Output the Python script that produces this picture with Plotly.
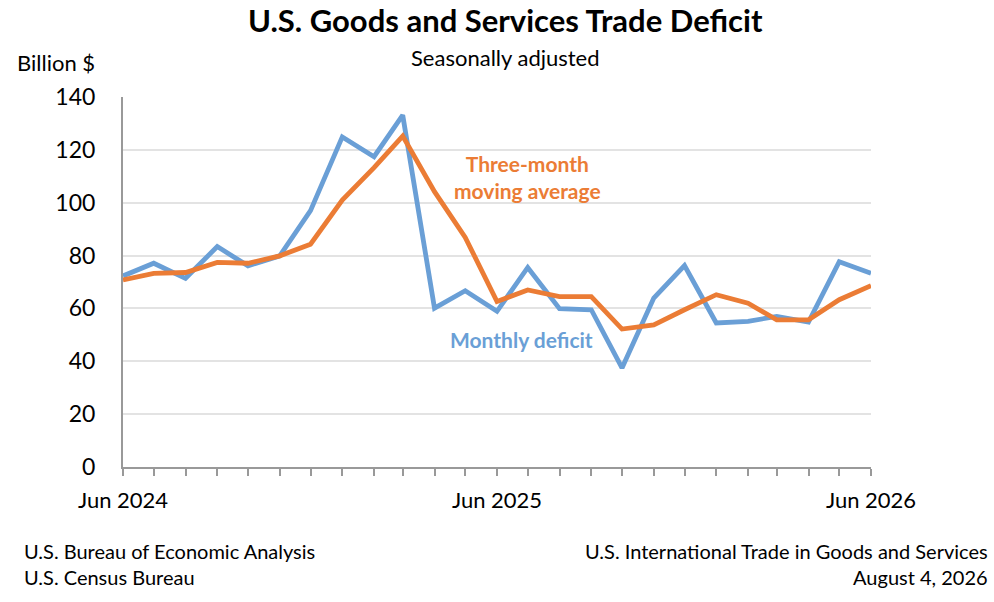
import pandas as pd
import plotly.graph_objects as go

months = pd.date_range("2024-06-01", "2026-06-01", freq="MS").strftime("%Y-%m-%d").tolist()

monthly_deficit = [72.3, 77.1, 71.4, 83.4, 76.1, 79.9, 97.0, 124.9, 117.4, 133.1, 60.1, 66.7, 58.9,
                   75.5, 59.9, 59.5, 37.5, 63.9, 76.2, 54.5, 55.1, 57.0, 54.8, 77.7, 73.3]
three_month_avg = [70.8, 73.3, 73.6, 77.4, 77.1, 79.9, 84.3, 101.0, 113.3, 125.2, 104.2, 86.9, 62.6,
                   67.0, 64.5, 64.5, 52.2, 53.8, 59.5, 65.2, 62.0, 55.7, 55.7, 63.3, 68.6]

y_ticks = [0, 20, 40, 60, 80, 100, 120, 140]

BLUE = "#6A9FD6"
ORANGE = "#EB7C35"
FONT = "Lato"

fig = go.Figure()
fig.add_trace(go.Scatter(x=months, y=monthly_deficit, mode="lines",
                         line=dict(color=BLUE, width=4.8), name="Monthly deficit"))
fig.add_trace(go.Scatter(x=months, y=three_month_avg, mode="lines",
                         line=dict(color=ORANGE, width=4.8), name="Three-month moving average"))

ticktext = ["Jun " + m[:4] if m.endswith("-06-01") else "" for m in months]

fig.update_layout(
    width=994, height=602,
    margin=dict(l=123, r=123, t=97, b=135),
    paper_bgcolor="white", plot_bgcolor="white",
    showlegend=False,
    font=dict(family=FONT, size=22, color="black"),
    xaxis=dict(
        range=[months[0], months[-1]],
        tickvals=months, ticktext=ticktext,
        ticks="outside", ticklen=7, tickcolor="#999999", tickwidth=1.5,
        showline=True, linecolor="#999999", linewidth=2,
        showgrid=False, zeroline=False,
        ticklabelstandoff=6,
        tickfont=dict(family=FONT, size=22, color="black"),
    ),
    yaxis=dict(
        range=[0, 140], tickvals=y_ticks,
        showline=True, linecolor="#999999", linewidth=2,
        showgrid=True, gridcolor="#E3E3E3", gridwidth=1.5,
        zeroline=False, ticks="",
        ticklabelstandoff=21,
        tickfont=dict(family=FONT, size=23, color="black"),
    ),
    annotations=[
        dict(text="<b>U.S. Goods and Services Trade Deficit</b>", xref="paper", yref="paper",
             x=0.511, y=1, yshift=77, xanchor="center", yanchor="middle", showarrow=False,
             font=dict(family=FONT, size=31, color="black")),
        dict(text="Seasonally adjusted", xref="paper", yref="paper",
             x=0.511, y=1, yshift=40, xanchor="center", yanchor="middle", showarrow=False,
             font=dict(family=FONT, size=22, color="black")),
        dict(text="Billion $", xref="paper", yref="paper",
             x=-0.144, y=1, yshift=35, xanchor="left", yanchor="middle", showarrow=False,
             font=dict(family=FONT, size=22, color="black")),
        dict(text="<b>Three-month<br>moving average</b>", x=months[12], y=109.7, xshift=30,
             xanchor="center", yanchor="middle", showarrow=False,
             font=dict(family=FONT, size=21, color=ORANGE)),
        dict(text="<b>Monthly deficit</b>", x=months[12], y=48.4, xshift=24,
             xanchor="center", yanchor="middle", showarrow=False,
             font=dict(family=FONT, size=21, color=BLUE)),
        dict(text="U.S. Bureau of Economic Analysis<br>U.S. Census Bureau", xref="paper", yref="paper",
             x=-0.135, y=0, yshift=-97, xanchor="left", yanchor="middle", align="left",
             showarrow=False, font=dict(family=FONT, size=20, color="black")),
        dict(text="U.S. International Trade in Goods and Services<br>August 4, 2026", xref="paper", yref="paper",
             x=1.159, y=0, yshift=-97, xanchor="right", yanchor="middle", align="right",
             showarrow=False, font=dict(family=FONT, size=20, color="black")),
    ],
)

fig.write_html("out.html", config={"displayModeBar": False},
               post_script="document.body.style.margin='0';document.body.style.padding='0';")
